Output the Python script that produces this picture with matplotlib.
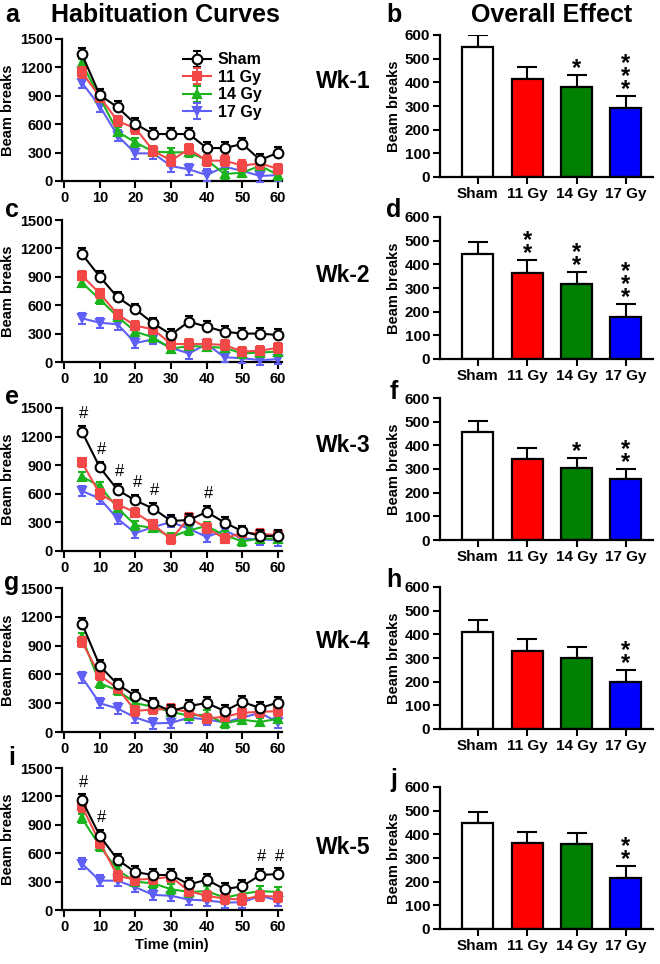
import matplotlib
matplotlib.use("Agg")
import matplotlib.pyplot as plt
import numpy as np

plt.rcParams['font.family'] = ['Liberation Sans', 'DejaVu Sans']
plt.rcParams['font.weight'] = 'bold'

# ---------------- data ----------------
times = [5, 10, 15, 20, 25, 30, 35, 40, 45, 50, 55, 60]
groups = ['Sham', '11 Gy', '14 Gy', '17 Gy']

wk1_sham = [1338, 908, 778, 602, 496, 496, 496, 348, 348, 391, 222, 299]
wk1_11 = [1148, 890, 633, 556, 320, 215, 338, 215, 215, 162, 187, 127]
wk1_14 = [1243, 880, 521, 408, 310, 303, 303, 222, 74, 88, 162, 63]
wk1_17 = [1038, 790, 478, 292, 292, 158, 123, 63, 151, 106, 53, 63]

wk2_sham = [1140, 901, 683, 556, 408, 290, 426, 373, 320, 300, 300, 285]
wk2_11 = [912, 725, 502, 384, 345, 190, 190, 190, 180, 110, 120, 150]
wk2_14 = [838, 662, 478, 320, 260, 140, 170, 160, 150, 90, 100, 110]
wk2_17 = [461, 415, 398, 200, 240, 150, 90, 190, 50, 40, 20, 30]

wk3_sham = [1251, 878, 640, 530, 445, 315, 325, 410, 298, 207, 158, 158]
wk3_11 = [930, 600, 490, 403, 280, 123, 348, 241, 130, 193, 182, 164]
wk3_14 = [780, 680, 451, 270, 241, 147, 217, 262, 164, 102, 130, 130]
wk3_17 = [630, 550, 338, 188, 251, 304, 234, 147, 217, 130, 123, 112]

wk4_sham = [1129, 690, 496, 375, 297, 218, 270, 303, 218, 313, 250, 307]
wk4_11 = [938, 590, 455, 220, 235, 240, 210, 140, 160, 200, 210, 217]
wk4_14 = [990, 507, 434, 300, 262, 210, 170, 180, 90, 128, 105, 138]
wk4_17 = [570, 300, 245, 150, 90, 95, 150, 130, 100, 150, 200, 100]

wk5_sham = [1159, 784, 530, 400, 370, 370, 270, 320, 220, 250, 370, 380]
wk5_11 = [1095, 711, 360, 320, 330, 350, 200, 150, 120, 110, 150, 140]
wk5_14 = [969, 676, 420, 300, 280, 220, 190, 200, 130, 170, 200, 190]
wk5_17 = [490, 310, 310, 240, 160, 150, 110, 100, 80, 80, 150, 100]

# SEM of curves per week (Sham, 11, 14, 17)
curve_sem = [[65, 55, 50, 60], [60, 50, 45, 55], [60, 50, 45, 55],
             [60, 50, 45, 55], [65, 55, 50, 55]]

# '#' significance time points per week
hash_times = [[], [], [5, 10, 15, 20, 25, 40], [], [5, 10, 55, 60]]

# overall effect bars
bar_means = [[548, 414, 380, 292],
             [444, 363, 317, 177],
             [456, 342, 304, 258],
             [410, 330, 300, 199],
             [448, 363, 359, 215]]
bar_sem = [[52, 51, 51, 50],
           [50, 55, 51, 55],
           [47, 47, 42, 42],
           [50, 50, 47, 50],
           [46, 47, 47, 50]]
bar_stars = [[0, 0, 1, 3], [0, 2, 2, 3], [0, 0, 1, 2], [0, 0, 0, 2], [0, 0, 0, 2]]

weeks = ['Wk-1', 'Wk-2', 'Wk-3', 'Wk-4', 'Wk-5']
curves = [[wk1_sham, wk1_11, wk1_14, wk1_17],
          [wk2_sham, wk2_11, wk2_14, wk2_17],
          [wk3_sham, wk3_11, wk3_14, wk3_17],
          [wk4_sham, wk4_11, wk4_14, wk4_17],
          [wk5_sham, wk5_11, wk5_14, wk5_17]]

# ---------------- styling ----------------
W, H = 660, 964
line_colors = ['black', '#f24848', '#1cb41c', '#5f5ff5']
markers = ['o', 's', '^', 'v']
bar_colors = ['white', '#ff0000', '#008000', '#0000ff']
letters_left = ['a', 'c', 'e', 'g', 'i']
letters_right = ['b', 'd', 'f', 'h', 'j']

line_top_bot = [(39, 181), (220, 362), (408, 551), (588, 732), (768, 910)]
bar_top_bot = [(35, 177), (217, 359), (398, 540), (587, 729), (787, 929)]
letter_left_y = [15, 210, 397, 583, 758]
letter_right_y = [15, 210, 392, 580, 780]
wk_y = [82, 275, 445, 642, 848]

fig = plt.figure(figsize=(W / 100, H / 100), dpi=100)


def px_ax(l, t, r, b):
    return [l / W, 1 - b / H, (r - l) / W, (b - t) / H]


def style_axes(ax):
    for s in ['top', 'right']:
        ax.spines[s].set_visible(False)
    for s in ['left', 'bottom']:
        ax.spines[s].set_linewidth(1.6)
    ax.tick_params(width=1.5, length=5, labelsize=10.5, pad=2)
    for lab in ax.get_xticklabels() + ax.get_yticklabels():
        lab.set_fontweight('bold')


for w in range(5):
    t, b = line_top_bot[w]
    ax = fig.add_axes(px_ax(62, t, 281.6, b))
    for gi in reversed(range(4)):
        vals = curves[w][gi]
        sem = curve_sem[w][gi]
        if gi == 0:
            yerr = [[0] * len(vals), [sem] * len(vals)]
            mfc = 'white'
        else:
            yerr = [sem] * len(vals)
            mfc = line_colors[gi]
        ms = 7 if gi == 0 else 6
        ax.errorbar(times, vals, yerr=yerr, color=line_colors[gi], marker=markers[gi],
                    mfc=mfc, mec=line_colors[gi], mew=1.5, ms=ms, lw=1.5,
                    capsize=3, elinewidth=1.3, capthick=1.3, label=groups[gi],
                    clip_on=False, zorder=3 + (4 - gi))
    for ht in hash_times[w]:
        idx = times.index(ht)
        ax.text(ht + 0.5, curves[w][0][idx] + 190, '#', ha='center', va='center',
                fontsize=12, fontweight='normal')
    ax.set_xlim(-0.6, 61)
    ax.set_ylim(0, 1500)
    ax.set_xticks([0, 10, 20, 30, 40, 50, 60])
    ax.set_yticks([0, 300, 600, 900, 1200, 1500])
    ax.set_ylabel('Beam breaks', fontsize=10.5, fontweight='bold', labelpad=3)
    style_axes(ax)
    if w == 0:
        h, l = ax.get_legend_handles_labels()
        order = [l.index(g) for g in groups]
        leg = ax.legend([h[i] for i in order], [l[i] for i in order],
                        loc='upper left', bbox_to_anchor=(0.52, 0.95), frameon=False,
                        fontsize=11.5, handlelength=1.8, handletextpad=0.4,
                        labelspacing=0.15, borderaxespad=0)
        for txt in leg.get_texts():
            txt.set_fontweight('bold')
    if w == 4:
        ax.set_xlabel('Time (min)', fontsize=10.5, fontweight='bold', labelpad=3)
    fig.text(12 / W, 1 - letter_left_y[w] / H, letters_left[w], fontsize=18,
             fontweight='bold', ha='center', va='center')

for w in range(5):
    t, b = bar_top_bot[w]
    ax = fig.add_axes(px_ax(440, t, 653, b))
    xs = np.arange(4)
    ax.bar(xs, bar_means[w], width=0.63, color=bar_colors, edgecolor='black',
           linewidth=1.6, zorder=2)
    ax.errorbar(xs, bar_means[w], yerr=[[0] * 4, bar_sem[w]], fmt='none',
                ecolor='black', elinewidth=1.5, capsize=7, capthick=1.5, zorder=1)
    for i in range(4):
        n = bar_stars[w][i]
        if n:
            top = bar_means[w][i] + bar_sem[w][i]
            ax.text(i, top - 20, '\n'.join(['*'] * n), ha='center', va='bottom',
                    fontsize=17, fontweight='bold', linespacing=0.45,
                    multialignment='center')
    ax.set_xlim(-0.77, 3.55)
    ax.set_ylim(0, 600)
    ax.set_xticks(xs)
    ax.set_xticklabels(groups)
    ax.set_yticks(range(0, 601, 100))
    ax.set_ylabel('Beam breaks', fontsize=10.5, fontweight='bold', labelpad=3)
    style_axes(ax)
    ax.tick_params(axis='x', labelsize=11)
    ax.tick_params(axis='y', labelsize=11)
    fig.text(394 / W, 1 - letter_right_y[w] / H, letters_right[w], fontsize=18,
             fontweight='bold', ha='center', va='center')
    fig.text(343 / W, 1 - wk_y[w] / H, weeks[w], fontsize=16.5, fontweight='bold',
             ha='center', va='center')

fig.text(165 / W, 1 - 15 / H, 'Habituation Curves', fontsize=18, fontweight='bold',
         ha='center', va='center')
fig.text(552 / W, 1 - 15 / H, 'Overall Effect', fontsize=18, fontweight='bold',
         ha='center', va='center')

fig.savefig('out.png', dpi=100)
